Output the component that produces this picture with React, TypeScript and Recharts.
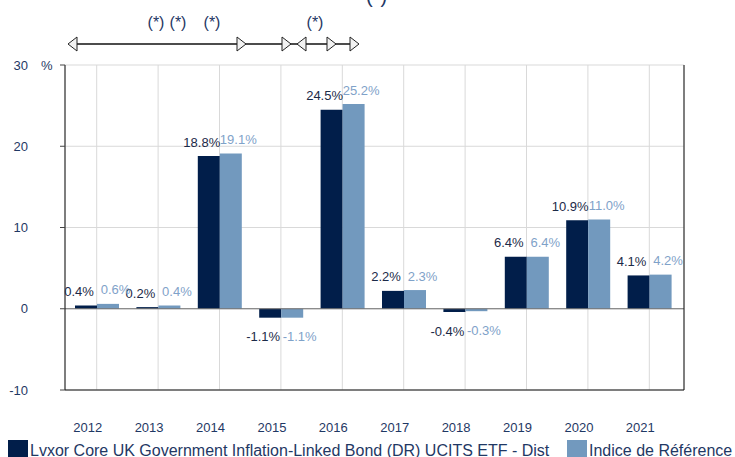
import React from "react";
import {
  BarChart,
  Bar,
  XAxis,
  YAxis,
  CartesianGrid,
  ReferenceLine,
  LabelList,
} from "recharts";

const YEARS = ["2012", "2013", "2014", "2015", "2016", "2017", "2018", "2019", "2020", "2021"];
const FUND = [0.4, 0.2, 18.8, -1.1, 24.5, 2.2, -0.4, 6.4, 10.9, 4.1];
const INDEX = [0.6, 0.4, 19.1, -1.1, 25.2, 2.3, -0.3, 6.4, 11.0, 4.2];
const Y_TICKS = [-10, 0, 10, 20, 30];

const FUND_NAME = "Lvxor Core UK Government Inflation-Linked Bond (DR) UCITS ETF - Dist";
const INDEX_NAME = "Indice de Référence";

const DARK = "#011e4a";
const LIGHT = "#7299be";
const DARK_TEXT = "#1c2a48";
const LIGHT_TEXT = "#7fa2c9";
const NAVY = "#1f3864";
const FONT = "Arial, 'Liberation Sans', sans-serif";

const data = YEARS.map((year, i) => ({ year, fund: FUND[i], index: INDEX[i] }));

const pct = (v: number) => `${v.toFixed(1)}%`;

const makeLabel = (shift: number, color: string) => (props: any) => {
  const { x, y, width, height, value } = props;
  const top = Math.min(y, y + height);
  const bottom = Math.max(y, y + height);
  const ty = value >= 0 ? top - 9.5 : bottom + 23.5;
  return (
    <text
      x={x + width / 2 + shift}
      y={ty}
      textAnchor="middle"
      fill={color}
      fontSize={13}
      fontFamily={FONT}
    >
      {pct(value)}
    </text>
  );
};

const LeftTick = (props: any) => {
  const { x, y, payload } = props;
  return (
    <g>
      <text x={x} y={y} dy="0.35em" textAnchor="end" fill={NAVY} fontSize={13} fontFamily={FONT}>
        {payload.value}
      </text>
      {payload.value === 30 && (
        <text x={x + 13} y={y} dy="0.35em" textAnchor="start" fill={NAVY} fontSize={13} fontFamily={FONT}>
          %
        </text>
      )}
    </g>
  );
};

const RightTick = (props: any) => {
  const { x, y, payload } = props;
  return (
    <g>
      <text x={x + 15} y={y} dy="0.35em" textAnchor="end" fill={NAVY} fontSize={13} fontFamily={FONT}>
        {payload.value}
      </text>
      {payload.value === 30 && (
        <text x={x - 23} y={y} dy="0.35em" textAnchor="start" fill={NAVY} fontSize={13} fontFamily={FONT}>
          %
        </text>
      )}
    </g>
  );
};

const YearTick = (props: any) => {
  const { x, y, payload } = props;
  return (
    <text x={x - 9} y={y} dy="0.35em" textAnchor="middle" fill={NAVY} fontSize={13} fontFamily={FONT}>
      {payload.value}
    </text>
  );
};

// timeline arrows over the chart (decoration)
const tri = (tip: number, dir: 1 | -1) => {
  const base = tip - dir * 9;
  return `${tip},44 ${base},37 ${base},51`;
};

const Annotations = () => (
  <svg
    width={735}
    height={62}
    style={{ position: "absolute", left: 0, top: 0, pointerEvents: "none" }}
  >
    <text x={366} y={3} fill={NAVY} fontSize={20} fontFamily={FONT}>
      (*)
    </text>
    {[156, 178, 212, 315].map((cx) => (
      <text key={cx} x={cx} y={28} textAnchor="middle" fill={NAVY} fontSize={16} fontFamily={FONT}>
        (*)
      </text>
    ))}
    <line x1={72} y1={44} x2={354} y2={44} stroke="#111" strokeWidth={1.5} />
    {[
      [68, -1],
      [246, 1],
      [291, 1],
      [297, -1],
      [336, 1],
      [359, 1],
    ].map(([tip, dir]) => (
      <polygon
        key={tip}
        points={tri(tip, dir as 1 | -1)}
        fill="#f2f2f2"
        stroke="#222"
        strokeWidth={1}
      />
    ))}
  </svg>
);

const LegendBar = () => (
  <svg
    width={735}
    height={20}
    style={{ position: "absolute", left: 0, top: 437, pointerEvents: "none", overflow: "visible" }}
  >
    <rect x={8} y={3} width={20} height={20} fill={DARK} />
    <text x={30} y={19} fill={NAVY} fontSize={16} fontFamily={FONT}>
      {FUND_NAME}
    </text>
    <rect x={567} y={3} width={20} height={20} fill={LIGHT} />
    <text x={589} y={19} fill={NAVY} fontSize={16} fontFamily={FONT}>
      {INDEX_NAME}
    </text>
  </svg>
);

export default function App() {
  return (
    <div style={{ position: "relative", width: 735, height: 457, overflow: "hidden", background: "#fff" }}>
      <style>{`body{margin:0}`}</style>
      <BarChart
        width={735}
        height={457}
        data={data}
        margin={{ top: 65, right: 0, bottom: 0, left: 0 }}
        barSize={22}
        barGap={0}
      >
        <CartesianGrid stroke="#d9d9d9" strokeWidth={1} yAxisId="left" />
        <XAxis
          dataKey="year"
          height={67}
          padding={{ left: 1, right: 4 }}
          axisLine={{ stroke: "#111" }}
          tickLine={false}
          tick={<YearTick />}
          tickMargin={31}
          interval={0}
        />
        <YAxis
          yAxisId="left"
          orientation="left"
          width={65}
          domain={[-10, 30]}
          ticks={Y_TICKS}
          axisLine={{ stroke: "#111" }}
          tickLine={{ stroke: "#444" }}
          tickSize={5}
          tickMargin={32}
          tick={<LeftTick />}
        />
        <YAxis
          yAxisId="right"
          orientation="right"
          width={51}
          domain={[-10, 30]}
          ticks={Y_TICKS}
          axisLine={{ stroke: "#111" }}
          tickLine={{ stroke: "#444" }}
          tickSize={5}
          tickMargin={19}
          tick={<RightTick />}
        />
        <ReferenceLine yAxisId="left" y={0} stroke="#6f6f6f" strokeWidth={1.2} />
        <Bar yAxisId="left" dataKey="fund" fill={DARK} isAnimationActive={false}>
          <LabelList dataKey="fund" content={makeLabel(-7, DARK_TEXT)} />
        </Bar>
        <Bar yAxisId="left" dataKey="index" fill={LIGHT} isAnimationActive={false}>
          <LabelList dataKey="index" content={makeLabel(7.5, LIGHT_TEXT)} />
        </Bar>
      </BarChart>
      <Annotations />
      <LegendBar />
    </div>
  );
}
